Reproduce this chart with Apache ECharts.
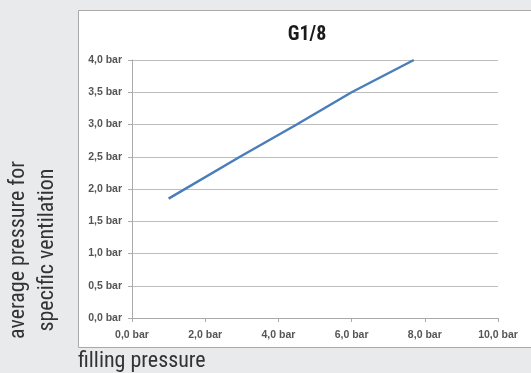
<!DOCTYPE html>
<html><head><meta charset="utf-8">
<script src="https://cdn.jsdelivr.net/npm/echarts@6/dist/echarts.min.js"></script>
<style>html,body{margin:0;padding:0;background:#e9eaec;}#c{width:531px;height:373px;}</style>
</head><body><div id="c"></div>
<script>
const title = 'G1/8';
const fillingPressure = [1.0, 2.95, 4.5, 6.0, 7.7];
const averagePressure = [1.85, 2.5, 3.0, 3.5, 4.0];
const yTicks = ['0,0 bar','0,5 bar','1,0 bar','1,5 bar','2,0 bar','2,5 bar','3,0 bar','3,5 bar','4,0 bar'];
const xTicks = ['0,0 bar','2,0 bar','4,0 bar','6,0 bar','8,0 bar','10,0 bar'];
const yAxisTitle = ['average pressure for', 'specific ventilation'];
const xAxisTitle = 'filling pressure';

const FONT = '"Liberation Sans Narrow", "Arial Narrow", "Roboto Condensed", "Liberation Sans", sans-serif';
const LABELFONT = '"Liberation Sans", Arial, sans-serif';
const chart = echarts.init(document.getElementById('c'), null, {renderer: 'canvas'});
chart.setOption({
  backgroundColor: '#e9eaec',
  animation: false,
  title: {text: title, left: 302, top: 20, textAlign: 'center',
    textStyle: {fontFamily: FONT, fontSize: 20, fontWeight: 'bold', color: '#1a1a1a'}},
  graphic: [
    {type: 'rect', shape: {x: 78.5, y: 10.5, width: 460, height: 337}, z: -10,
      style: {fill: '#ffffff', stroke: '#a9a9a9', lineWidth: 1}},
    {type: 'text', x: 18.5, y: 250, rotation: Math.PI/2, z: 10,
      style: {text: yAxisTitle[0], fontFamily: FONT, fontSize: 22, fill: '#333', align: 'center', verticalAlign: 'middle'}},
    {type: 'text', x: 47.5, y: 250, rotation: Math.PI/2, z: 10,
      style: {text: yAxisTitle[1], fontFamily: FONT, fontSize: 22, fill: '#333', align: 'center', verticalAlign: 'middle'}},
    {type: 'text', x: 78, y: 361, z: 10,
      style: {text: xAxisTitle, fontFamily: FONT, fontSize: 22, fill: '#333', align: 'left', verticalAlign: 'middle'}}
  ],
  grid: {left: 132, right: 33, top: 60, bottom: 55},
  xAxis: {type: 'value', min: 0, max: 10, interval: 2,
    axisLine: {show: true, lineStyle: {color: '#aaaaaa', width: 1}},
    axisTick: {show: true, length: 4, lineStyle: {color: '#aaaaaa'}},
    splitLine: {show: false},
    axisLabel: {margin: 12, fontFamily: LABELFONT, fontSize: 10.5, fontWeight: 'bold', color: '#555',
      formatter: (v) => xTicks[Math.round(v/2)]}},
  yAxis: {type: 'value', min: 0, max: 4, interval: 0.5,
    axisLine: {show: true, lineStyle: {color: '#aaaaaa', width: 1}},
    axisTick: {show: true, inside: false, length: 4, lineStyle: {color: '#aaaaaa'}},
    splitLine: {show: true, lineStyle: {color: '#bdbdbd', width: 1.2}},
    axisLabel: {margin: 10, fontFamily: LABELFONT, fontSize: 10.5, fontWeight: 'bold', color: '#555',
      formatter: (v) => yTicks[Math.round(v*2)]}},
  series: [{type: 'line', data: fillingPressure.map((x, i) => [x, averagePressure[i]]),
    showSymbol: false, lineStyle: {color: '#4a7ebb', width: 2.5}, z: 5}]
});
</script></body></html>
